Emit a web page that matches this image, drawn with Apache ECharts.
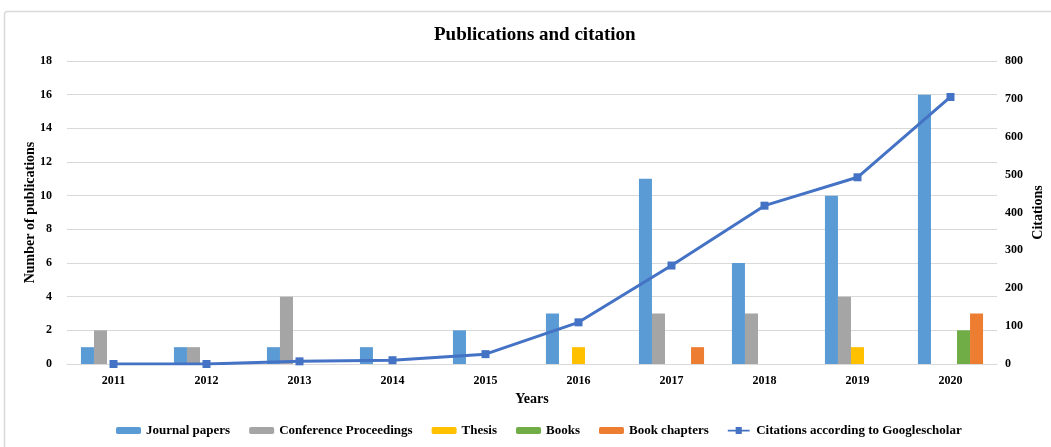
<!DOCTYPE html>
<html>
<head>
<meta charset="utf-8">
<script src="https://cdn.jsdelivr.net/npm/echarts@6/dist/echarts.min.js"></script>
<style>
  html, body { margin: 0; padding: 0; background: #fff; }
  #chart { width: 1051px; height: 447px; }
</style>
</head>
<body>
<div id="chart"></div>
<script>
// Publication counts per year and Google Scholar citations
const years = ['2011', '2012', '2013', '2014', '2015', '2016', '2017', '2018', '2019', '2020'];
const journalPapers = [1, 1, 1, 1, 2, 3, 11, 6, 10, 16];
const conferenceProceedings = [2, 1, 4, 0, 0, 0, 3, 3, 4, 0];
const thesis = [0, 0, 0, 0, 0, 1, 0, 0, 1, 0];
const books = [0, 0, 0, 0, 0, 0, 0, 0, 0, 2];
const bookChapters = [0, 0, 0, 0, 0, 0, 1, 0, 0, 3];
const citations = [0, 0, 7, 10, 26, 110, 260, 418, 493, 705];

const FONT = '"Liberation Serif", "Times New Roman", serif';
const txt = { fontFamily: FONT, fontWeight: 'bold', color: '#000' };

const chart = echarts.init(document.getElementById('chart'));

function bar(name, data, color) {
  return {
    name, type: 'bar', data, yAxisIndex: 0,
    barGap: '0%', barCategoryGap: '30%',
    itemStyle: { color },
    emphasis: { disabled: true }
  };
}

chart.setOption({
  animation: false,
  backgroundColor: '#fff',
  graphic: [{
    type: 'rect', left: 2, top: 9,
    shape: { width: 1060, height: 450, r: 3 },
    style: { fill: 'none', stroke: '#D9D9D9', lineWidth: 1.5 },
    silent: true
  }],
  title: {
    text: 'Publications and citation',
    left: 429, top: 21,
    textStyle: { ...txt, fontSize: 19 }
  },
  legend: {
    bottom: 5, left: 111,
    itemWidth: 25, itemHeight: 7, itemGap: 19,
    textStyle: { ...txt, fontSize: 13, fontWeight: 'bold' },
    data: ['Journal papers', 'Conference Proceedings', 'Thesis', 'Books', 'Book chapters',
      { name: 'Citations according to Googlescholar', icon: 'path://M0,3 L25,3 L25,5 L0,5 Z M9,0 L16,0 L16,8 L9,8 Z' }]
  },
  grid: { left: 67, right: 54, top: 61, bottom: 83, containLabel: false, outerBoundsMode: 'none' },
  xAxis: {
    type: 'category', data: years,
    name: 'Years', nameLocation: 'middle', nameGap: 28, nameMoveOverlap: false,
    nameTextStyle: { ...txt, fontSize: 14 },
    axisLine: { lineStyle: { color: '#D9D9D9', width: 1 } },
    axisTick: { show: false },
    axisLabel: { ...txt, fontSize: 12, margin: 11 }
  },
  yAxis: [{
    type: 'value', min: 0, max: 18, interval: 2,
    name: 'Number of publications', nameLocation: 'middle', nameGap: 30, nameRotate: 90,
    nameMoveOverlap: false,
    nameTextStyle: { ...txt, fontSize: 14 },
    axisLine: { show: false }, axisTick: { show: false },
    axisLabel: { ...txt, fontSize: 12, margin: 15 },
    splitLine: { lineStyle: { color: '#D9D9D9', width: 1 } }
  }, {
    type: 'value', min: 0, max: 800, interval: 100, position: 'right',
    name: 'Citations', nameLocation: 'middle', nameGap: 34, nameRotate: 90,
    nameMoveOverlap: false,
    nameTextStyle: { ...txt, fontSize: 14 },
    axisLine: { show: false }, axisTick: { show: false },
    axisLabel: { ...txt, fontSize: 12, margin: 8 },
    splitLine: { show: false }
  }],
  series: [
    bar('Journal papers', journalPapers, '#5B9BD5'),
    bar('Conference Proceedings', conferenceProceedings, '#A5A5A5'),
    bar('Thesis', thesis, '#FFC000'),
    bar('Books', books, '#70AD47'),
    bar('Book chapters', bookChapters, '#ED7D31'),
    {
      name: 'Citations according to Googlescholar', type: 'line', yAxisIndex: 1,
      data: citations,
      symbol: 'rect', symbolSize: 8,
      lineStyle: { color: '#4472C4', width: 3 },
      itemStyle: { color: '#4472C4' },
      emphasis: { disabled: true },
      z: 5
    }
  ]
});
</script>
</body>
</html>
